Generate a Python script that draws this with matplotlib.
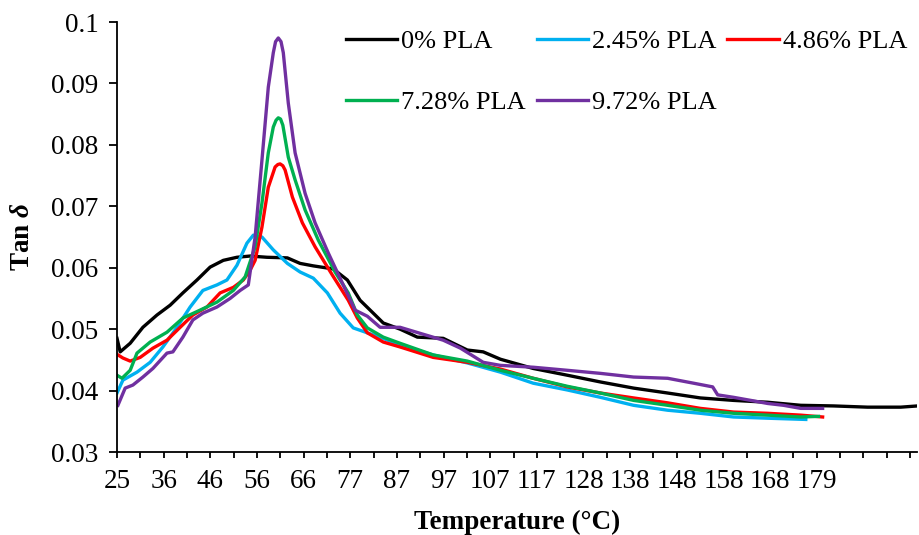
import numpy as np
import matplotlib
matplotlib.use('Agg')
from matplotlib import pyplot as plt

plt.rcParams['font.family'] = ['Liberation Serif', 'DejaVu Serif']
plt.rcParams['mathtext.fontset'] = 'custom'
plt.rcParams['mathtext.rm'] = 'Liberation Serif:bold'
plt.rcParams['mathtext.it'] = 'Liberation Serif:italic:bold'
plt.rcParams['mathtext.bf'] = 'Liberation Serif:bold'

# category labels on the temperature axis (every other tick is labelled)
temp_labels = ['25', '36', '46', '56', '66', '77', '87', '97', '107', '117',
               '128', '138', '148', '158', '168', '179']
y_ticks = [0.03, 0.04, 0.05, 0.06, 0.07, 0.08, 0.09, 0.1]
y_labels = ['0.03', '0.04', '0.05', '0.06', '0.07', '0.08', '0.09', '0.1']

# 0% PLA
t_0 = [25.0, 25.7, 27.9, 30.7, 33.8, 36.7, 39.5, 42.6, 45.5, 48.4, 51.4, 54.3,
       58.0, 62.5, 65.3, 68.2, 72.6, 75.7, 78.5, 81.4, 83.6, 87.3, 91.1, 96.8,
       102.1, 105.6, 109.4, 116.6, 124.1, 131.4, 138.7, 146.2, 153.4, 160.7,
       168.2, 175.5, 182.7, 190.2, 197.5, 201.2]
tan_0 = [0.0485, 0.0463, 0.0477, 0.0503, 0.0523, 0.0539, 0.0559, 0.0580, 0.0601,
         0.0612, 0.0617, 0.0619, 0.0617, 0.0616, 0.0607, 0.0603, 0.0598, 0.0580,
         0.0547, 0.0526, 0.0510, 0.0500, 0.0487, 0.0485, 0.0466, 0.0463, 0.0451,
         0.0436, 0.0425, 0.0414, 0.0404, 0.0396, 0.0388, 0.0384, 0.0381, 0.0376,
         0.0375, 0.0373, 0.0373, 0.0375]

# 2.45% PLA
t_245 = [25.0, 26.3, 29.4, 32.3, 35.1, 38.2, 41.1, 43.9, 47.0, 49.2, 51.4, 53.6,
         55.0, 56.9, 59.4, 62.5, 65.3, 68.2, 71.3, 74.1, 77.0, 80.1, 83.6, 87.3,
         94.6, 102.1, 109.4, 116.6, 124.1, 131.4, 138.7, 146.2, 153.4, 160.7,
         168.2, 176.6]
tan_245 = [0.0396, 0.0417, 0.0430, 0.0446, 0.0471, 0.0503, 0.0536, 0.0563, 0.0572,
           0.0580, 0.0604, 0.0640, 0.0653, 0.0650, 0.0629, 0.0607, 0.0593, 0.0583,
           0.0559, 0.0526, 0.0502, 0.0494, 0.0485, 0.0474, 0.0458, 0.0445, 0.0430,
           0.0412, 0.0401, 0.0389, 0.0376, 0.0368, 0.0363, 0.0357, 0.0355, 0.0353]

# 4.86% PLA
t_486 = [25.0, 26.3, 27.9, 30.1, 32.9, 36.0, 38.9, 41.7, 44.8, 47.7, 50.6, 52.8,
         54.3, 55.4, 56.9, 58.3, 59.8, 60.4, 60.9, 61.5, 62.0, 63.6, 65.8, 68.6,
         72.4, 75.9, 77.9, 80.1, 83.6, 87.3, 94.6, 102.1, 109.4, 116.6, 124.1,
         131.4, 138.7, 146.2, 153.4, 160.7, 168.2, 175.5, 180.3]
tan_486 = [0.0459, 0.0453, 0.0448, 0.0454, 0.0469, 0.0482, 0.0503, 0.0523, 0.0536,
           0.0559, 0.0568, 0.0580, 0.0596, 0.0612, 0.0666, 0.0731, 0.0764, 0.0768,
           0.0769, 0.0766, 0.0759, 0.0715, 0.0673, 0.0634, 0.0588, 0.0547, 0.0518,
           0.0494, 0.0479, 0.0471, 0.0454, 0.0446, 0.0435, 0.0420, 0.0406, 0.0396,
           0.0388, 0.0380, 0.0371, 0.0365, 0.0363, 0.0360, 0.0357]

# 7.28% PLA
t_728 = [25.0, 26.1, 27.9, 29.4, 32.3, 36.0, 39.5, 43.3, 47.0, 50.6, 53.2, 55.4,
         56.9, 58.3, 59.4, 60.0, 60.5, 61.0, 61.5, 62.7, 64.2, 66.4, 69.3, 73.0,
         75.9, 77.9, 80.1, 83.6, 87.3, 94.6, 102.1, 109.4, 116.6, 124.1, 131.4,
         138.7, 146.2, 153.4, 160.7, 168.2, 175.5, 179.4]
tan_728 = [0.0425, 0.0420, 0.0433, 0.0461, 0.0479, 0.0495, 0.0518, 0.0531, 0.0544,
           0.0563, 0.0585, 0.0634, 0.0705, 0.0787, 0.0829, 0.0840, 0.0844, 0.0842,
           0.0832, 0.0780, 0.0743, 0.0694, 0.0645, 0.0593, 0.0559, 0.0523, 0.0502,
           0.0487, 0.0477, 0.0458, 0.0448, 0.0433, 0.0420, 0.0407, 0.0396, 0.0384,
           0.0376, 0.0368, 0.0363, 0.0360, 0.0357, 0.0358]

# 9.72% PLA
t_972 = [25.2, 26.8, 28.5, 30.7, 32.9, 36.0, 37.3, 39.5, 41.7, 43.9, 47.0, 49.9,
         52.1, 53.9, 55.4, 56.9, 58.3, 59.4, 59.9, 60.5, 61.1, 61.6, 62.7, 64.2,
         66.4, 68.6, 71.5, 74.6, 77.4, 80.1, 82.9, 87.3, 91.8, 96.8, 100.6, 105.6,
         109.4, 116.6, 124.1, 131.4, 138.7, 146.2, 151.9, 156.1, 157.2, 160.7,
         164.5, 168.2, 171.7, 175.5, 180.3]
tan_972 = [0.0376, 0.0404, 0.0409, 0.0422, 0.0436, 0.0461, 0.0463, 0.0487, 0.0515,
           0.0526, 0.0536, 0.0550, 0.0563, 0.0572, 0.0650, 0.0775, 0.0894, 0.0950,
           0.0968, 0.0974, 0.0968, 0.0950, 0.0868, 0.0787, 0.0721, 0.0673, 0.0624,
           0.0575, 0.0531, 0.0521, 0.0503, 0.0503, 0.0493, 0.0482, 0.0469, 0.0446,
           0.0441, 0.0438, 0.0433, 0.0428, 0.0422, 0.0420, 0.0412, 0.0406, 0.0393,
           0.0389, 0.0384, 0.0379, 0.0376, 0.0371, 0.0371]

series = [
    (t_0, tan_0, '0% PLA', '#000000'),
    (t_245, tan_245, '2.45% PLA', '#00B0F0'),
    (t_486, tan_486, '4.86% PLA', '#FF0000'),
    (t_728, tan_728, '7.28% PLA', '#00B050'),
    (t_972, tan_972, '9.72% PLA', '#7030A0'),
]

fig = plt.figure(figsize=(9.19, 5.35), dpi=100)
ax = fig.add_subplot(111)
fig.subplots_adjust(left=117/919, right=917/919, bottom=83/535, top=513/535)

handles = []
for t, v, name, col in series:
    h, = ax.plot(t, v, color=col, lw=2.4, label=name, solid_joinstyle='round')
    handles.append(h)

step = (179 - 25) / 30.0
ticks = [25 + k * step for k in range(35)]
tick_text = [temp_labels[k // 2] if (k % 2 == 0 and k // 2 < len(temp_labels)) else ''
             for k in range(35)]
ax.set_xticks(ticks)
ax.set_xticklabels(tick_text)
ax.set_xlim(25, 25 + 34.3 * step)

ax.set_yticks(y_ticks)
ax.set_yticklabels(y_labels)
ax.set_ylim(0.03, 0.1)

for s in ['top', 'right']:
    ax.spines[s].set_visible(False)
for s in ['left', 'bottom']:
    ax.spines[s].set_linewidth(1.3)
ax.tick_params(axis='y', direction='out', length=5.5, width=1.3, pad=8, labelsize=19.5)
ax.tick_params(axis='x', direction='out', length=4.2, width=1.3, pad=8, labelsize=19.5)

ax.set_xlabel('Temperature (°C)', fontsize=19.5, fontweight='bold')
ax.xaxis.set_label_coords(0.5, -0.135)
ax.set_ylabel(r'Tan $\delta$', fontsize=19.5, fontweight='bold')
ax.yaxis.set_label_coords(-0.103, 0.5)

order = [0, 3, 1, 4, 2]
ax.legend([handles[i] for i in order], [series[i][2] for i in order],
          ncol=3, frameon=False, fontsize=19, loc='upper left',
          bbox_to_anchor=(346/919, 1 - 30/535), bbox_transform=fig.transFigure,
          borderpad=0, borderaxespad=0, handlelength=1.95, handletextpad=0.15,
          columnspacing=0.4, labelspacing=1.42)

fig.savefig('out.png', dpi=100)
